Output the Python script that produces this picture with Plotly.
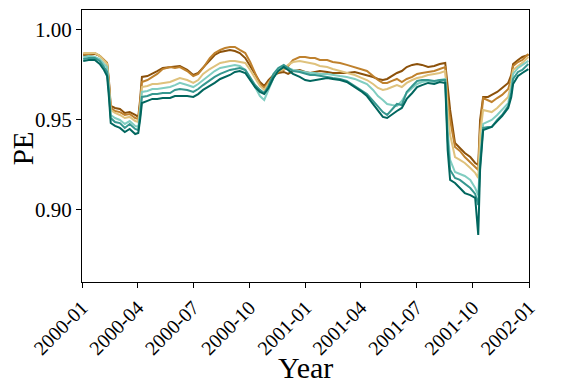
import plotly.graph_objects as go

dates = [
    '2000-01-03', '2000-01-12', '2000-01-22', '2000-01-30', '2000-02-06', '2000-02-11',
    '2000-02-14', '2000-02-17', '2000-02-24', '2000-03-03', '2000-03-11', '2000-03-19',
    '2000-03-28', '2000-04-02', '2000-04-05', '2000-04-08', '2000-04-17', '2000-04-25',
    '2000-05-03', '2000-05-12', '2000-05-24', '2000-06-01', '2000-06-09', '2000-06-21',
    '2000-07-01', '2000-07-09', '2000-07-17', '2000-07-28', '2000-08-05', '2000-08-14',
    '2000-08-22', '2000-08-30', '2000-09-07', '2000-09-15', '2000-09-24', '2000-10-02',
    '2000-10-10', '2000-10-18', '2000-10-25', '2000-11-01', '2000-11-09', '2000-11-17',
    '2000-11-26', '2000-12-03', '2000-12-11', '2000-12-22', '2000-12-31', '2001-01-08',
    '2001-01-16', '2001-01-24', '2001-02-05', '2001-02-14', '2001-02-26', '2001-03-09',
    '2001-03-22', '2001-04-03', '2001-04-11', '2001-04-21', '2001-04-29', '2001-05-07',
    '2001-05-14', '2001-05-22', '2001-05-30', '2001-06-07', '2001-06-15', '2001-06-24',
    '2001-07-02', '2001-07-10', '2001-07-20', '2001-07-30', '2001-08-08', '2001-08-17',
    '2001-08-21', '2001-08-25', '2001-09-02', '2001-09-10', '2001-09-18', '2001-09-27',
    '2001-10-05', '2001-10-10', '2001-10-13', '2001-10-18', '2001-10-26', '2001-11-01',
    '2001-11-10', '2001-11-18', '2001-11-28', '2001-12-03', '2001-12-06', '2001-12-14',
    '2001-12-21', '2001-12-31',
]

pe_1 = [
    0.9861, 0.9861, 0.9867, 0.9856, 0.9833, 0.9817, 0.9722, 0.9578, 0.9567, 0.9561, 0.9539, 0.9544,
    0.9528, 0.9517, 0.9611, 0.9739, 0.9744, 0.9756, 0.9772, 0.9789, 0.9794, 0.9794, 0.9800, 0.9778,
    0.9750, 0.9761, 0.9789, 0.9833, 0.9861, 0.9878, 0.9883, 0.9889, 0.9883, 0.9872, 0.9844, 0.9800,
    0.9750, 0.9711, 0.9689, 0.9722, 0.9750, 0.9761, 0.9767, 0.9756, 0.9772, 0.9778, 0.9767, 0.9761,
    0.9767, 0.9772, 0.9767, 0.9761, 0.9761, 0.9761, 0.9767, 0.9756, 0.9750, 0.9739, 0.9728, 0.9722,
    0.9728, 0.9744, 0.9761, 0.9772, 0.9794, 0.9806, 0.9811, 0.9806, 0.9794, 0.9800, 0.9811, 0.9817,
    0.9667, 0.9556, 0.9372, 0.9344, 0.9317, 0.9294, 0.9261, 0.9250, 0.9500, 0.9628, 0.9628, 0.9639,
    0.9656, 0.9678, 0.9706, 0.9750, 0.9811, 0.9833, 0.9850, 0.9861,
]
pe_2 = [
    0.9867, 0.9867, 0.9872, 0.9856, 0.9833, 0.9817, 0.9711, 0.9567, 0.9550, 0.9544, 0.9528, 0.9533,
    0.9511, 0.9506, 0.9589, 0.9711, 0.9722, 0.9739, 0.9756, 0.9783, 0.9794, 0.9789, 0.9794, 0.9772,
    0.9744, 0.9756, 0.9789, 0.9844, 0.9872, 0.9889, 0.9900, 0.9906, 0.9906, 0.9889, 0.9872, 0.9822,
    0.9761, 0.9700, 0.9678, 0.9711, 0.9744, 0.9767, 0.9778, 0.9800, 0.9833, 0.9850, 0.9850, 0.9844,
    0.9844, 0.9833, 0.9833, 0.9822, 0.9817, 0.9806, 0.9794, 0.9783, 0.9772, 0.9744, 0.9722, 0.9706,
    0.9706, 0.9717, 0.9728, 0.9711, 0.9728, 0.9739, 0.9756, 0.9761, 0.9767, 0.9772, 0.9783, 0.9794,
    0.9611, 0.9500, 0.9350, 0.9328, 0.9294, 0.9267, 0.9239, 0.9222, 0.9444, 0.9622, 0.9611, 0.9600,
    0.9622, 0.9639, 0.9672, 0.9733, 0.9800, 0.9822, 0.9833, 0.9867,
]
pe_3 = [
    0.9872, 0.9872, 0.9872, 0.9856, 0.9828, 0.9811, 0.9694, 0.9556, 0.9539, 0.9528, 0.9511, 0.9517,
    0.9494, 0.9489, 0.9572, 0.9683, 0.9689, 0.9700, 0.9700, 0.9706, 0.9711, 0.9722, 0.9733, 0.9722,
    0.9706, 0.9722, 0.9756, 0.9783, 0.9800, 0.9817, 0.9822, 0.9828, 0.9828, 0.9822, 0.9817, 0.9778,
    0.9733, 0.9689, 0.9667, 0.9700, 0.9744, 0.9772, 0.9783, 0.9806, 0.9822, 0.9828, 0.9822, 0.9817,
    0.9811, 0.9800, 0.9794, 0.9783, 0.9772, 0.9761, 0.9750, 0.9733, 0.9722, 0.9700, 0.9678, 0.9667,
    0.9672, 0.9683, 0.9694, 0.9683, 0.9706, 0.9722, 0.9733, 0.9739, 0.9750, 0.9756, 0.9761, 0.9772,
    0.9556, 0.9417, 0.9294, 0.9278, 0.9261, 0.9233, 0.9206, 0.9178, 0.9417, 0.9556, 0.9550, 0.9544,
    0.9567, 0.9594, 0.9628, 0.9706, 0.9778, 0.9800, 0.9817, 0.9850,
]
pe_4 = [
    0.9850, 0.9856, 0.9850, 0.9839, 0.9811, 0.9794, 0.9678, 0.9528, 0.9511, 0.9500, 0.9478, 0.9494,
    0.9467, 0.9461, 0.9544, 0.9656, 0.9661, 0.9672, 0.9672, 0.9678, 0.9683, 0.9694, 0.9706, 0.9694,
    0.9683, 0.9700, 0.9722, 0.9750, 0.9772, 0.9789, 0.9794, 0.9800, 0.9806, 0.9800, 0.9778, 0.9733,
    0.9683, 0.9633, 0.9611, 0.9667, 0.9733, 0.9778, 0.9800, 0.9789, 0.9778, 0.9772, 0.9767, 0.9761,
    0.9761, 0.9756, 0.9756, 0.9750, 0.9744, 0.9739, 0.9728, 0.9711, 0.9700, 0.9667, 0.9633, 0.9611,
    0.9589, 0.9583, 0.9578, 0.9606, 0.9650, 0.9678, 0.9700, 0.9711, 0.9717, 0.9711, 0.9722, 0.9728,
    0.9444, 0.9278, 0.9211, 0.9200, 0.9189, 0.9167, 0.9122, 0.9083, 0.9278, 0.9478, 0.9489, 0.9500,
    0.9528, 0.9556, 0.9594, 0.9678, 0.9756, 0.9789, 0.9806, 0.9828,
]
pe_5 = [
    0.9839, 0.9844, 0.9844, 0.9828, 0.9794, 0.9767, 0.9656, 0.9511, 0.9489, 0.9483, 0.9456, 0.9478,
    0.9450, 0.9444, 0.9522, 0.9628, 0.9633, 0.9644, 0.9644, 0.9650, 0.9650, 0.9667, 0.9672, 0.9667,
    0.9656, 0.9672, 0.9694, 0.9722, 0.9739, 0.9756, 0.9767, 0.9778, 0.9783, 0.9789, 0.9778, 0.9733,
    0.9694, 0.9667, 0.9650, 0.9689, 0.9756, 0.9789, 0.9806, 0.9789, 0.9772, 0.9767, 0.9756, 0.9750,
    0.9750, 0.9744, 0.9739, 0.9733, 0.9728, 0.9717, 0.9689, 0.9661, 0.9644, 0.9606, 0.9572, 0.9544,
    0.9528, 0.9556, 0.9589, 0.9583, 0.9656, 0.9689, 0.9717, 0.9722, 0.9722, 0.9717, 0.9722, 0.9722,
    0.9389, 0.9222, 0.9178, 0.9167, 0.9144, 0.9122, 0.9089, 0.9028, 0.9250, 0.9456, 0.9461, 0.9461,
    0.9500, 0.9528, 0.9578, 0.9650, 0.9728, 0.9767, 0.9778, 0.9811,
]
pe_6 = [
    0.9828, 0.9833, 0.9833, 0.9811, 0.9778, 0.9744, 0.9628, 0.9483, 0.9467, 0.9456, 0.9433, 0.9450,
    0.9422, 0.9428, 0.9500, 0.9594, 0.9606, 0.9617, 0.9617, 0.9622, 0.9622, 0.9633, 0.9633, 0.9633,
    0.9628, 0.9644, 0.9667, 0.9689, 0.9706, 0.9728, 0.9739, 0.9750, 0.9767, 0.9772, 0.9761, 0.9722,
    0.9683, 0.9656, 0.9644, 0.9678, 0.9733, 0.9772, 0.9794, 0.9778, 0.9756, 0.9739, 0.9722, 0.9717,
    0.9722, 0.9728, 0.9733, 0.9728, 0.9722, 0.9711, 0.9683, 0.9656, 0.9633, 0.9589, 0.9550, 0.9517,
    0.9511, 0.9533, 0.9550, 0.9567, 0.9617, 0.9650, 0.9683, 0.9694, 0.9706, 0.9700, 0.9711, 0.9706,
    0.9333, 0.9167, 0.9150, 0.9122, 0.9094, 0.9083, 0.9067, 0.8861, 0.9222, 0.9444, 0.9456, 0.9461,
    0.9494, 0.9522, 0.9567, 0.9628, 0.9700, 0.9744, 0.9761, 0.9783,
]

series = [pe_1, pe_2, pe_3, pe_4, pe_5, pe_6]
colors = ['#8c510a', '#bf812d', '#dfc27d', '#80cdc1', '#35978f', '#01665e']

quarters = ['2000-01-01', '2000-04-01', '2000-07-01', '2000-10-01', '2001-01-01',
            '2001-04-01', '2001-07-01', '2001-10-01', '2002-01-01']
quarter_labels = ['2000-01', '2000-04', '2000-07', '2000-10', '2001-01',
                  '2001-04', '2001-07', '2001-10', '2002-01']
y_ticks = [0.90, 0.95, 1.00]

fig = go.Figure()
for vals, col in zip(series, colors):
    fig.add_trace(go.Scatter(x=dates, y=vals, mode='lines',
                             line=dict(color=col, width=2), showlegend=False))

axis_common = dict(showline=True, linecolor='black', linewidth=1, mirror=True,
                   showgrid=False, zeroline=False, ticks='outside', ticklen=5,
                   tickcolor='black', tickwidth=1, automargin=False)

# page body keeps its default 8px margin, so the figure is 8px smaller
fig.update_layout(
    width=559, height=383,
    margin=dict(l=74, r=38, t=2, b=109),
    plot_bgcolor='white', paper_bgcolor='white',
    font=dict(family='Liberation Serif', color='black'),
    xaxis=dict(type='date', range=['2000-01-01', '2002-01-01'],
               tickvals=quarters, ticktext=quarter_labels, tickangle=-45,
               tickfont=dict(size=20), **axis_common),
    yaxis=dict(range=[0.86, 1.0111], tickvals=y_ticks,
               ticktext=['%.2f' % v for v in y_ticks],
               tickfont=dict(size=21), **axis_common),
)

# axis titles
fig.add_annotation(text='Year', xref='paper', yref='paper', x=0.5, y=-0.315,
                   xanchor='center', yanchor='middle', showarrow=False,
                   font=dict(size=30))
fig.add_annotation(text='PE', xref='paper', yref='paper', x=-0.133, y=0.49,
                   xanchor='center', yanchor='middle', textangle=-90,
                   showarrow=False, borderpad=0, font=dict(size=29))

fig.write_html("out.html")
